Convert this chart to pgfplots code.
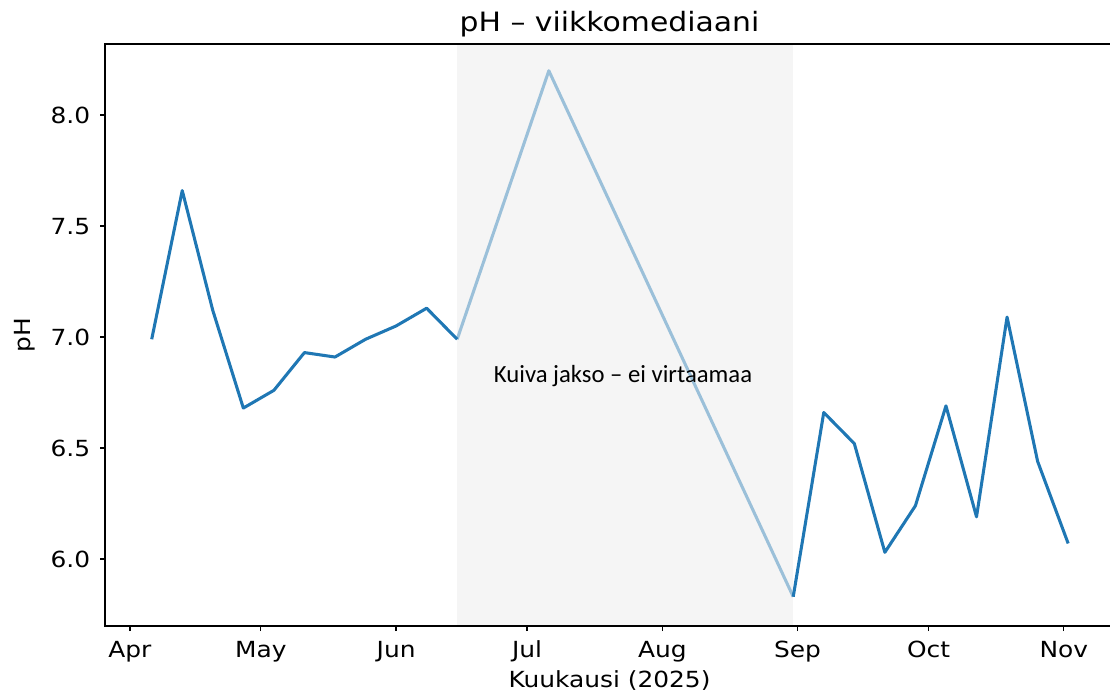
\documentclass[border=0pt]{standalone}
\usepackage{fontspec}
\setmainfont{DejaVu Sans}[FakeStretch=1.12]
\newfontfamily\carlito{Carlito}
\usepackage{pgfplots}
\pgfplotsset{compat=1.18}
\definecolor{mplblue}{HTML}{1F77B4}
\definecolor{spangray}{HTML}{F5F5F5}
\begin{document}
\begin{tikzpicture}
\useasboundingbox (0pt,0pt) rectangle (400pt,250.09pt);
\begin{axis}[
  at={(37.84pt,24.5pt)}, anchor=south west,
  scale only axis, width=363.6pt, height=209.7pt,
  xmin=85.3, xmax=316.5, ymin=5.698, ymax=8.32,
  xtick={91,121,152,182,213,244,274,305},
  xticklabels={Apr,May,Jun,Jul,Aug,Sep,Oct,Nov},
  ytick={6,6.5,7,7.5,8},
  yticklabel style={/pgf/number format/.cd,fixed,fixed zerofill,precision=1},
  /pgf/number format/assume math mode=true,
  xtick pos=bottom, ytick pos=left, tick align=outside,
  major tick length=1.8pt,
  tick style={black, line width=0.5pt},
  axis line style={black, line width=0.7pt},
  axis on top,
  font=\fontsize{8}{9.6}\selectfont,
  title={pH – viikkomediaani},
  title style={font=\fontsize{9.6}{11.5}\selectfont, at={(axis description cs:0.5,1)}, anchor=base, yshift=-1.3pt},
  xlabel={Kuukausi (2025)},
  xlabel style={at={(axis description cs:0.5,0)}, anchor=base, yshift=-22pt},
  ylabel={pH},
  ylabel style={at={(axis description cs:-0.0793,0.5)}, anchor=center},
]
\addplot[draw=none, fill=spangray, forget plot] coordinates {(166,5.698) (243,5.698) (243,8.32) (166,8.32)} -- cycle;
\addplot[mplblue, line width=1.1pt, line join=round, opacity=0.42] coordinates {
(166,6.99) (187,8.20) (243,5.83)
};
\addplot[mplblue, line width=1.1pt, line join=round] coordinates {
(96,6.99) (103,7.66) (110,7.12) (117,6.68) (124,6.76) (131,6.93) (138,6.91)
(145,6.99) (152,7.05) (159,7.13) (166,6.99)
};
\addplot[mplblue, line width=1.1pt, line join=round] coordinates {
(243,5.83) (250,6.66) (257,6.52) (264,6.03) (271,6.24) (278,6.69) (285,6.19)
(292,7.09) (299,6.44) (306,6.07)
};
\node[font=\carlito\fontsize{8.9}{10.7}\selectfont, anchor=base] at (axis cs:204,6.794) {Kuiva jakso – ei virtaamaa};
\end{axis}
\end{tikzpicture}
\end{document}
